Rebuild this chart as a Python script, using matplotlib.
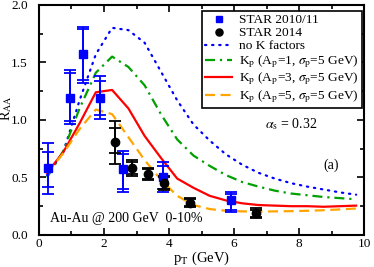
import matplotlib
matplotlib.use("Agg")
import matplotlib.pyplot as plt
from matplotlib.ticker import MultipleLocator

plt.rcParams['font.family'] = ['Liberation Serif', 'DejaVu Serif']
plt.rcParams['mathtext.fontset'] = 'stix'

# Theory curves
pt_curve = [0.25, 0.75, 1.25, 1.75, 2.25, 2.75, 3.25, 3.75, 4.25, 4.75,
            5.25, 5.75, 6.25, 6.75, 7.25, 7.75, 8.25, 8.75, 9.25, 9.75]
raa_noK = [0.52, 0.72, 1.17, 1.57, 1.80, 1.78, 1.67, 1.42, 1.17, 0.96,
           0.82, 0.70, 0.61, 0.54, 0.49, 0.45, 0.42, 0.395, 0.37, 0.35]
raa_A1 = [0.50, 0.73, 1.10, 1.41, 1.55, 1.46, 1.30, 1.05, 0.83, 0.69,
          0.60, 0.52, 0.46, 0.42, 0.385, 0.36, 0.345, 0.33, 0.32, 0.31]
raa_A3 = [0.54, 0.72, 0.97, 1.24, 1.26, 1.10, 0.86, 0.67, 0.49, 0.41,
          0.34, 0.30, 0.275, 0.26, 0.255, 0.25, 0.25, 0.245, 0.25, 0.255]
raa_A5 = [0.54, 0.71, 0.92, 1.09, 1.05, 0.85, 0.65, 0.48, 0.34, 0.26,
          0.225, 0.21, 0.205, 0.203, 0.205, 0.207, 0.21, 0.215, 0.222, 0.23]

# STAR 2010/11
star11_pt = [0.28, 0.95, 1.35, 1.88, 2.58, 3.80, 5.90]
star11_raa = [0.58, 1.19, 1.57, 1.19, 0.57, 0.50, 0.30]
star11_err_lo = [0.22, 0.23, 0.25, 0.18, 0.20, 0.13, 0.10]
star11_err_hi = [0.22, 0.24, 0.24, 0.19, 0.16, 0.13, 0.07]
star11_err2_lo = [0.16, 0.20, 0.22, 0.15, 0.17, 0.10, 0.08]
star11_err2_hi = [0.14, 0.22, 0.22, 0.15, 0.13, 0.10, 0.06]

# STAR 2014
star14_pt = [2.34, 2.86, 3.36, 3.85, 4.65, 6.68]
star14_raa = [0.81, 0.58, 0.53, 0.45, 0.28, 0.19]
star14_err_lo = [0.19, 0.07, 0.05, 0.06, 0.04, 0.04]
star14_err_hi = [0.18, 0.07, 0.05, 0.06, 0.04, 0.04]
star14_err2_lo = [0.10, 0.05, 0.04, 0.05, 0.03, 0.03]
star14_err2_hi = [0.12, 0.05, 0.04, 0.05, 0.03, 0.03]

fig = plt.figure(figsize=(3.74, 2.67), dpi=100)
ax = fig.add_axes([0.104, 0.12, 0.870, 0.862])

blue = '#0000ff'
ax.errorbar(star11_pt, star11_raa, yerr=[star11_err_lo, star11_err_hi], fmt='none',
            ecolor=blue, elinewidth=1.3, capsize=4, capthick=1.3, zorder=3)
ax.errorbar(star11_pt, star11_raa, yerr=[star11_err2_lo, star11_err2_hi], fmt='none',
            ecolor=blue, elinewidth=1.3, capsize=4, capthick=1.3, zorder=3)
ax.errorbar(star14_pt, star14_raa, yerr=[star14_err_lo, star14_err_hi], fmt='none',
            ecolor='black', elinewidth=1.3, capsize=4, capthick=1.3, zorder=3)
ax.errorbar(star14_pt, star14_raa, yerr=[star14_err2_lo, star14_err2_hi], fmt='none',
            ecolor='black', elinewidth=1.3, capsize=4, capthick=1.3, zorder=3)

h1, = ax.plot(star11_pt, star11_raa, 's', color=blue, ms=5.5, ls='none', zorder=4,
              label='STAR 2010/11')
h2, = ax.plot(star14_pt, star14_raa, 'o', color='black', ms=6, ls='none', zorder=4,
              label='STAR 2014')

h3, = ax.plot(pt_curve, raa_noK, color=blue, lw=1.6, ls=(0, (0.6, 2.6)),
              dash_capstyle='round', label='no K factors')
h4, = ax.plot(pt_curve, raa_A1, color='#00a000', lw=1.6, ls=(0, (4.5, 2.2, 1, 2.2)),
              label=r'K$_\mathrm{p}$ (A$_\mathrm{p}$=1, $\sigma_\mathrm{p}$=5 GeV)')
h5, = ax.plot(pt_curve, raa_A3, color='#ff0000', lw=1.6, ls='-',
              label=r'K$_\mathrm{p}$ (A$_\mathrm{p}$=3, $\sigma_\mathrm{p}$=5 GeV)')
h6, = ax.plot(pt_curve, raa_A5, color='#ffa500', lw=1.6, ls=(0, (4.5, 2.5)),
              label=r'K$_\mathrm{p}$ (A$_\mathrm{p}$=5, $\sigma_\mathrm{p}$=5 GeV)')

ax.set_xlim(0, 10)
ax.set_ylim(0, 2.0)
ax.xaxis.set_major_locator(MultipleLocator(2))
ax.xaxis.set_minor_locator(MultipleLocator(1))
ax.yaxis.set_major_locator(MultipleLocator(0.5))
ax.yaxis.set_minor_locator(MultipleLocator(0.25))
ax.xaxis.set_major_formatter(plt.FuncFormatter(lambda v, p: f'{v:.0f}'))
ax.yaxis.set_major_formatter(plt.FuncFormatter(lambda v, p: f'{v:.1f}'))
ax.tick_params(which='both', direction='in', top=True, right=True, labelsize=9.5, width=1.2)
ax.tick_params(axis='y', which='major', pad=8)
ax.tick_params(axis='x', which='major', pad=2)
ax.tick_params(which='major', length=5)
ax.tick_params(which='minor', length=3)
for s in ax.spines.values():
    s.set_linewidth(1.5)

ax.set_xlabel(r'p$_\mathrm{T}$ (GeV)', fontsize=10.5, labelpad=0)
ax.set_ylabel(r'R$_\mathrm{AA}$', fontsize=10)
ax.yaxis.set_label_coords(-0.075, 0.55)

leg = ax.legend(handles=[h1, h2, h3, h4, h5, h6], loc='upper right',
                bbox_to_anchor=(0.994, 0.975), borderaxespad=0, fontsize=9.6,
                frameon=True, fancybox=False, edgecolor='black', framealpha=1,
                handlelength=2.0, handletextpad=0.55, borderpad=0.25, labelspacing=0.06,
                numpoints=1, markerscale=0.85)
leg.get_frame().set_linewidth(1.2)

ax.text(6.95, 0.96, r'$\alpha_\mathrm{s}$ = 0.32', fontsize=10, va='center')
ax.text(8.74, 0.61, '(a)', fontsize=10, va='center')
ax.text(0.34, 0.14, 'Au-Au @ 200 GeV  0-10%', fontsize=10, va='center')

fig.savefig('out.png', dpi=100)
